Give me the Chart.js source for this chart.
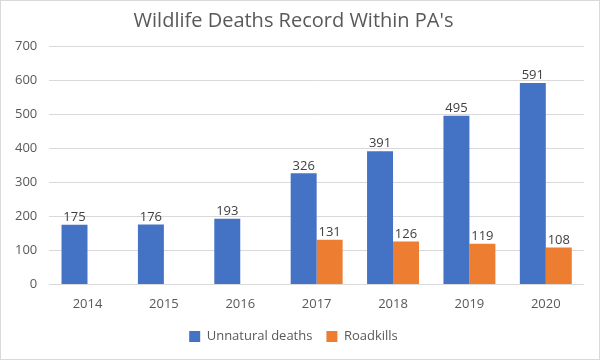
<!DOCTYPE html>
<html>
<head>
<meta charset="utf-8">
<script src="https://cdn.jsdelivr.net/npm/chart.js@4/dist/chart.umd.min.js"></script>
<style>
html,body{margin:0;padding:0;background:#fff;}
#wrap{position:absolute;left:0;top:0;width:598px;height:358px;border:1px solid #d9d9d9;}
</style>
</head>
<body>
<div id="wrap"><canvas id="c" width="598" height="358"></canvas></div>
<script>
const categories = ['2014','2015','2016','2017','2018','2019','2020'];
const unnaturalDeaths = [175,176,193,326,391,495,591];
const roadkills = [null,null,null,131,126,119,108];
const yTicks = [0,100,200,300,400,500,600,700];

const labelPlugin = {
  id: 'barLabels',
  afterDatasetsDraw(chart) {
    const ctx = chart.ctx;
    ctx.save();
    ctx.font = '13px "Open Sans", "Liberation Sans", sans-serif';
    ctx.fillStyle = '#404040';
    ctx.textAlign = 'center';
    ctx.textBaseline = 'bottom';
    chart.data.datasets.forEach((ds, i) => {
      const meta = chart.getDatasetMeta(i);
      meta.data.forEach((el, j) => {
        const v = ds.data[j];
        if (v === null || v === undefined) return;
        ctx.fillText(String(v), el.x, el.y - 1);
      });
    });
    ctx.restore();
  }
};

new Chart(document.getElementById('c'), {
  type: 'bar',
  data: {
    labels: categories,
    datasets: [
      {label: 'Unnatural deaths', data: unnaturalDeaths, backgroundColor: '#4472C4', borderWidth: 0},
      {label: 'Roadkills', data: roadkills, backgroundColor: '#ED7D31', borderWidth: 0}
    ]
  },
  options: {
    responsive: false,
    animation: false,
    devicePixelRatio: 1,
    layout: {padding: {left: 2, right: 15, top: 4, bottom: 6}},
    datasets: {bar: {categoryPercentage: 0.68, barPercentage: 1}},
    plugins: {
      title: {
        display: true,
        text: "Wildlife Deaths Record Within PA's",
        color: '#595959',
        font: {family: '"Open Sans", "Liberation Sans", sans-serif', size: 20, weight: 'normal'},
        padding: {top: 4, bottom: 13}
      },
      legend: {
        position: 'bottom',
        labels: {
          color: '#595959',
          font: {family: '"Open Sans", "Liberation Sans", sans-serif', size: 13},
          boxWidth: 11, boxHeight: 11, padding: 14
        }
      },
      tooltip: {enabled: false}
    },
    scales: {
      x: {
        grid: {display: false},
        border: {display: false},
        ticks: {color: '#595959', font: {family: '"Open Sans", "Liberation Sans", sans-serif', size: 13}, padding: 4}
      },
      y: {
        min: 0, max: 700,
        afterBuildTicks(axis) { axis.ticks = yTicks.map(v => ({value: v})); },
        grid: {color: '#d9d9d9', lineWidth: 1, drawTicks: false},
        border: {display: false},
        ticks: {color: '#595959', font: {family: '"Open Sans", "Liberation Sans", sans-serif', size: 13}, padding: 12}
      }
    }
  },
  plugins: [labelPlugin]
});
</script>
</body>
</html>
